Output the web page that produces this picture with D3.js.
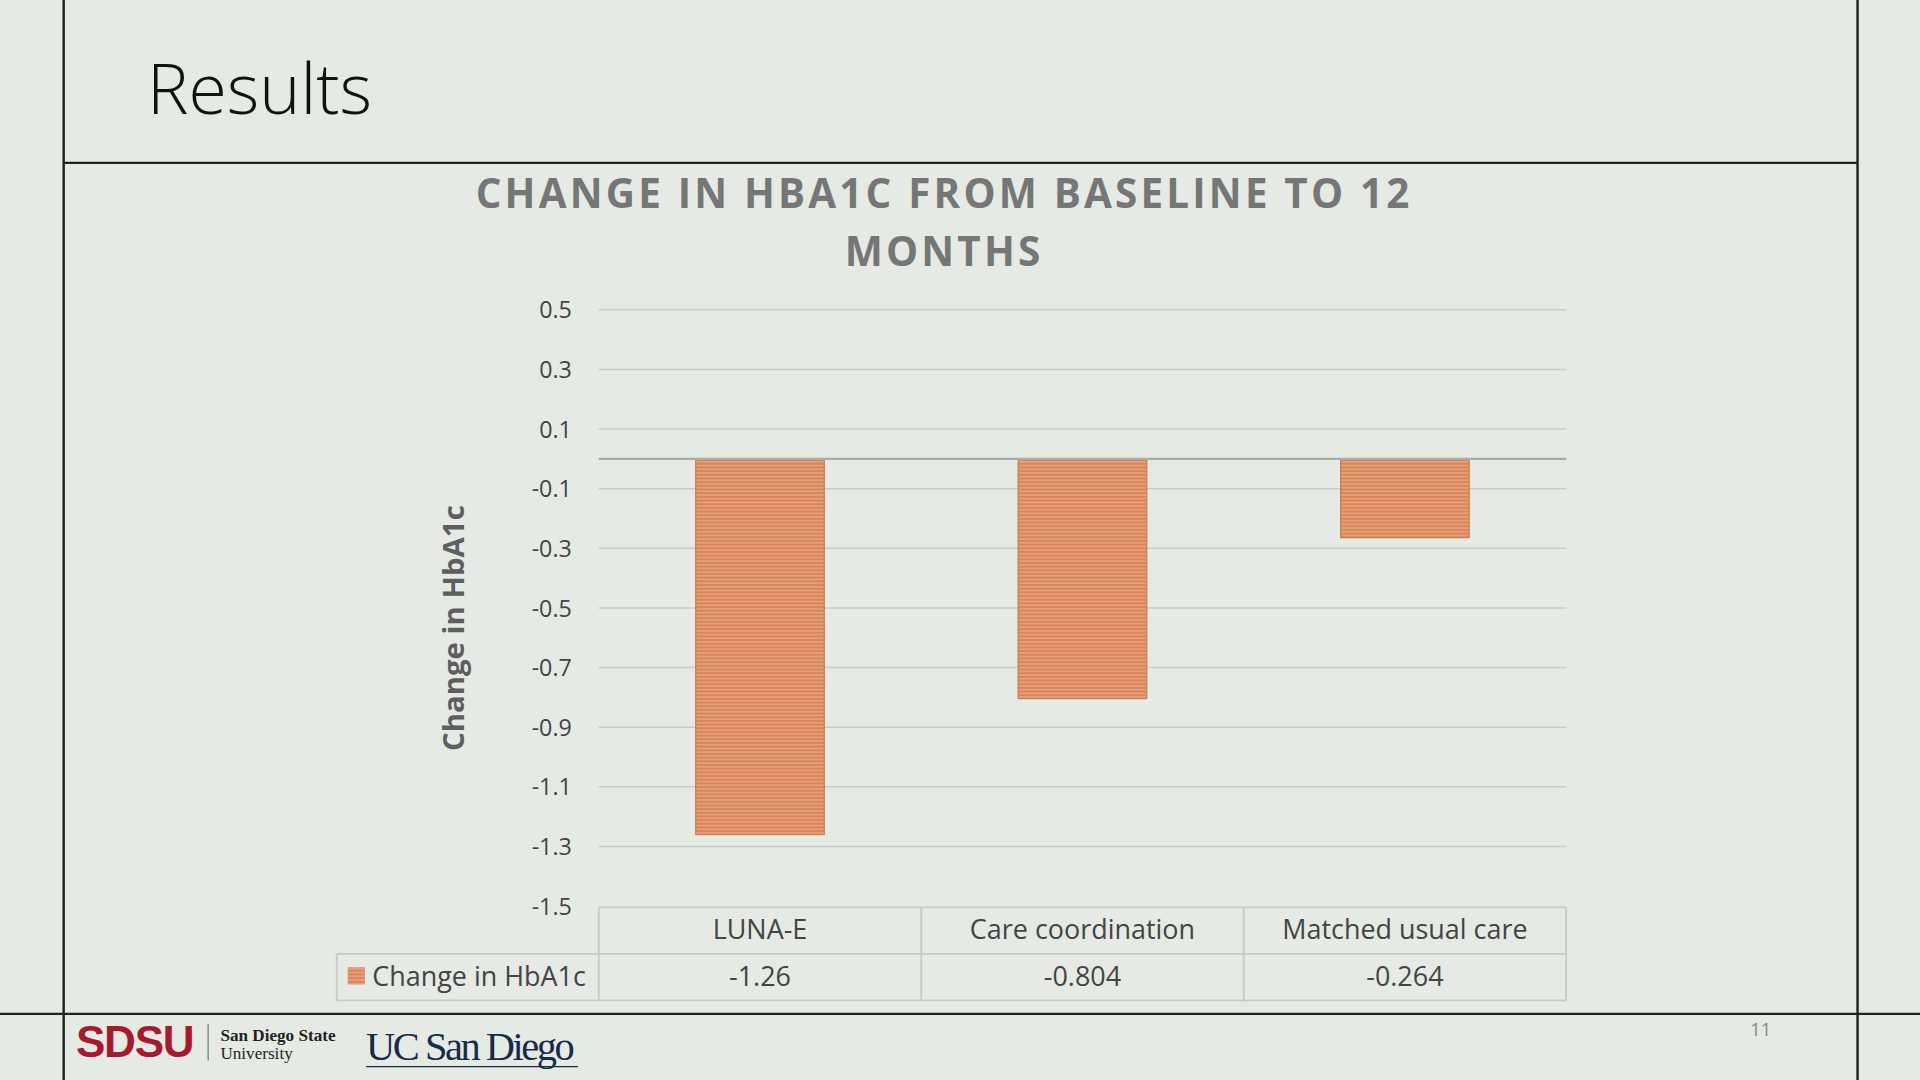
<!DOCTYPE html>
<html>
<head>
<meta charset="utf-8">
<script src="https://cdn.jsdelivr.net/npm/d3@7"></script>
<style>
  html, body { margin: 0; padding: 0; background: #e5eae4; }
  svg { display: block; }
</style>
</head>
<body>
<svg id="chart" width="1920" height="1080"></svg>
<script>
const categories = ["LUNA-E", "Care coordination", "Matched usual care"];
const values = [-1.26, -0.804, -0.264];
const valueLabels = ["-1.26", "-0.804", "-0.264"];
const yTicks = [0.5, 0.3, 0.1, -0.1, -0.3, -0.5, -0.7, -0.9, -1.1, -1.3, -1.5];
const seriesName = "Change in HbA1c";

function initChart() {
    // drawn in 1568x882 slide units, scaled up to the window
    const svg = d3.select("#chart").attr("viewBox", "0 0 1568 882");
    const ink = "#222";
    const grey = "#767676";

    svg.append("rect").attr("width", 1568).attr("height", 882).attr("fill", "#e5eae4");

    // slide frame
    svg.append("line").attr("x1", 52).attr("x2", 52).attr("y1", 0).attr("y2", 882).attr("stroke", ink).attr("stroke-width", 2);
    svg.append("line").attr("x1", 1517).attr("x2", 1517).attr("y1", 0).attr("y2", 882).attr("stroke", ink).attr("stroke-width", 2);
    svg.append("line").attr("x1", 52).attr("x2", 1517).attr("y1", 133).attr("y2", 133).attr("stroke", ink).attr("stroke-width", 2);
    svg.append("line").attr("x1", 0).attr("x2", 1568).attr("y1", 828).attr("y2", 828).attr("stroke", ink).attr("stroke-width", 2);

    svg.append("text").attr("x", 120).attr("y", 93)
        .style("font-family", "Open Sans").style("font-weight", 300).style("font-size", "57px")
        .attr("fill", "#111").text("Results");

    const title = svg.append("text").attr("text-anchor", "middle")
        .style("font-family", "Open Sans").style("font-weight", 700).style("font-size", "33px")
        .style("letter-spacing", "2.6px").attr("fill", grey);
    title.append("tspan").attr("x", 771).attr("y", 170).text("CHANGE IN HBA1C FROM BASELINE TO 12");
    title.append("tspan").attr("x", 771).attr("y", 217).text("MONTHS");

    const left = 489, right = 1279;
    const x = d3.scaleBand().domain(categories).range([left, right]).paddingInner(0).paddingOuter(0);
    const y = d3.scaleLinear().domain([-1.5, 0.5]).range([740, 253]);

    // stripe pattern for bars
    const pat = svg.append("defs").append("pattern").attr("id", "stripes")
        .attr("patternUnits", "userSpaceOnUse").attr("width", 8).attr("height", 3);
    pat.append("rect").attr("width", 8).attr("height", 3).attr("fill", "#e3a07a");
    pat.append("rect").attr("width", 8).attr("height", 1.5).attr("fill", "#d98557");

    // gridlines
    svg.append("g").selectAll("line").data(yTicks.slice(0, -1)).enter().append("line")
        .attr("x1", left).attr("x2", right)
        .attr("y1", d => y(d)).attr("y2", d => y(d))
        .attr("stroke", "#c9cdc8").attr("stroke-width", 1.2);

    svg.append("g").selectAll("text").data(yTicks).enter().append("text")
        .attr("x", 467).attr("y", d => y(d) + 7).attr("text-anchor", "end")
        .style("font-family", "Open Sans").style("font-size", "19px").attr("fill", "#444")
        .text(d => d.toFixed(1));

    svg.append("text").attr("transform", `translate(379,513) rotate(-90)`).attr("text-anchor", "middle")
        .style("font-family", "Open Sans").style("font-weight", 700).style("font-size", "24px")
        .attr("fill", "#5e5e5e").text(seriesName);

    const barW = 105;
    svg.append("g").selectAll("rect").data(values).enter().append("rect")
        .attr("x", (d, i) => x(categories[i]) + x.bandwidth() / 2 - barW / 2)
        .attr("y", y(0))
        .attr("width", barW)
        .attr("height", d => y(d) - y(0))
        .attr("fill", "url(#stripes)")
        .attr("stroke", "#cf7a4a").attr("stroke-width", 1);

    // zero axis line
    svg.append("line").attr("x1", left).attr("x2", right).attr("y1", y(0)).attr("y2", y(0))
        .attr("stroke", "#a9aca8").attr("stroke-width", 2);

    // data table
    const tStroke = "#c6cac5";
    const r1 = 741, r2 = 779, r3 = 817;
    const tbl = svg.append("g").attr("stroke", tStroke).attr("stroke-width", 1.5);
    tbl.append("line").attr("x1", left).attr("x2", right).attr("y1", r1).attr("y2", r1);
    tbl.append("line").attr("x1", 275).attr("x2", right).attr("y1", r2).attr("y2", r2);
    tbl.append("line").attr("x1", 275).attr("x2", right).attr("y1", r3).attr("y2", r3);
    tbl.append("line").attr("x1", 275).attr("x2", 275).attr("y1", r2).attr("y2", r3);
    tbl.selectAll(".v").data(categories.map(c => x(c)).concat([right])).enter().append("line")
        .attr("x1", d => d).attr("x2", d => d).attr("y1", r1).attr("y2", r3);

    const cellText = sel => sel.style("font-family", "Open Sans").style("font-size", "22px")
        .attr("fill", "#444").attr("text-anchor", "middle");
    svg.append("g").selectAll("text").data(categories).enter().append("text")
        .attr("x", d => x(d) + x.bandwidth() / 2).attr("y", r1 + 26).call(cellText).text(d => d);
    svg.append("g").selectAll("text").data(valueLabels).enter().append("text")
        .attr("x", (d, i) => x(categories[i]) + x.bandwidth() / 2).attr("y", r2 + 26).call(cellText).text(d => d);
    svg.append("rect").attr("x", 284).attr("y", 790).attr("width", 14).attr("height", 14).attr("fill", "url(#stripes)");
    svg.append("text").attr("x", 304).attr("y", r2 + 26)
        .style("font-family", "Open Sans").style("font-size", "22px").attr("fill", "#444").text(seriesName);

    // footer logos
    svg.append("text").attr("x", 62).attr("y", 863)
        .style("font-family", "Liberation Sans").style("font-weight", 700).style("font-size", "36px")
        .style("letter-spacing", "-1px").attr("fill", "#a6192e").text("SDSU");
    svg.append("line").attr("x1", 170).attr("x2", 170).attr("y1", 836).attr("y2", 866).attr("stroke", "#777");
    svg.append("text").attr("x", 180).attr("y", 850)
        .style("font-family", "Liberation Serif").style("font-size", "14px").style("font-weight", 700).attr("fill", "#222").text("San Diego State");
    svg.append("text").attr("x", 180).attr("y", 865)
        .style("font-family", "Liberation Serif").style("font-size", "14px").attr("fill", "#222").text("University");
    svg.append("text").attr("x", 299).attr("y", 866)
        .style("font-family", "Liberation Serif").style("font-size", "33px").style("letter-spacing", "-2px")
        .attr("fill", "#182b49").text("UC San Diego");
    svg.append("line").attr("x1", 299).attr("x2", 472).attr("y1", 871).attr("y2", 871).attr("stroke", "#182b49");

    svg.append("text").attr("x", 1438).attr("y", 846).attr("text-anchor", "middle")
        .style("font-family", "Open Sans").style("font-size", "15px").attr("fill", "#888").text("11");
}

document.addEventListener("DOMContentLoaded", initChart);
</script>
</body>
</html>
